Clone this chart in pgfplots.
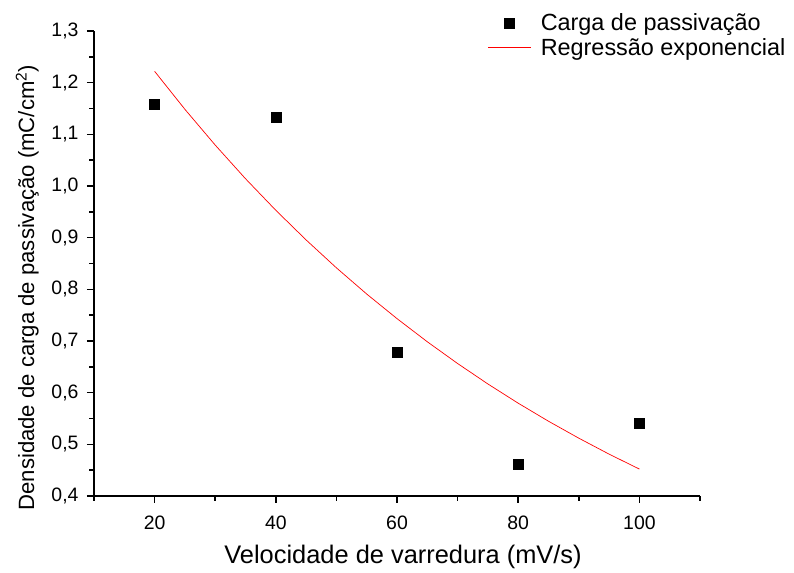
\documentclass[border=0pt]{standalone}
\usepackage{pgfplots}
\pgfplotsset{compat=1.18}
\usepackage{fontspec}
\setmainfont{Liberation Sans}
\pgfplotsset{
  markleg/.style={legend image code/.code={\draw[##1] plot coordinates {(21bp,0bp)};}},
  lineleg/.style={legend image code/.code={\draw[##1] (0bp,0bp) -- (43bp,0bp);}},
}
\begin{document}
\begin{tikzpicture}[x=1bp,y=1bp]
\useasboundingbox (0,0) rectangle (794,573);
\begin{axis}[
  at={(94bp,77bp)}, anchor=origin,
  scale only axis,
  width=606bp, height=465bp,
  xmin=10, xmax=110, ymin=0.4, ymax=1.3,
  axis x line*=bottom, axis y line*=left,
  axis line style={line width=1.6bp,-},
  xtick={20,40,60,80,100},
  minor xtick={10,30,50,70,90,110},
  ytick={0.4,0.5,...,1.31},
  minor ytick={0.45,0.55,...,1.26},
  tick align=outside,
  major tick length=7bp, minor tick length=5bp,
  every tick/.style={line width=1.6bp,black},
  /pgf/number format/assume math mode=true,
  yticklabel style={/pgf/number format/.cd,fixed,fixed zerofill,precision=1,use comma,/tikz/.cd,xshift=-5bp},
  xticklabel style={/pgf/number format/.cd,fixed,precision=0,/tikz/.cd,yshift=-9bp},
  ticklabel style={font=\fontsize{19.5}{22}\selectfont},
  xlabel={Velocidade de varredura (mV/s)},
  ylabel={Densidade de carga de passivação (mC/cm\textsuperscript{2})},
  xlabel style={font=\fontsize{25.5}{28}\selectfont, at={(axis description cs:0.51,-0.145)}, anchor=base},
  ylabel style={font=\fontsize{22.2}{26}\selectfont, at={(axis description cs:-0.099,0.448)}, anchor=base, rotate=0},
  clip=false,
  legend style={at={(axis cs:74.5,1.342)}, anchor=north west, draw=none, fill=none,
    font=\fontsize{23.5}{27}\selectfont, row sep=2.5bp,
    /tikz/every odd column/.append style={column sep=7bp}},
  legend cell align=left,
]
\addplot[only marks, mark=square*, mark size=5bp, black, markleg]
  coordinates {(20,1.158) (40,1.133) (60,0.679) (80,0.461) (100,0.541)};
\addlegendentry{Carga de passivação}
\addplot[red, line width=0.7pt, no marks, lineleg]
  coordinates {
  (20,1.2220) (25,1.1484) (30,1.0792) (35,1.0141) (40,0.9530)
  (45,0.8956) (50,0.8416) (55,0.7909) (60,0.7433) (65,0.6985)
  (70,0.6564) (75,0.6168) (80,0.5796) (85,0.5447) (90,0.5119)
  (95,0.4810) (100,0.4521)};
\addlegendentry{Regressão exponencial}
\end{axis}
\end{tikzpicture}
\end{document}
